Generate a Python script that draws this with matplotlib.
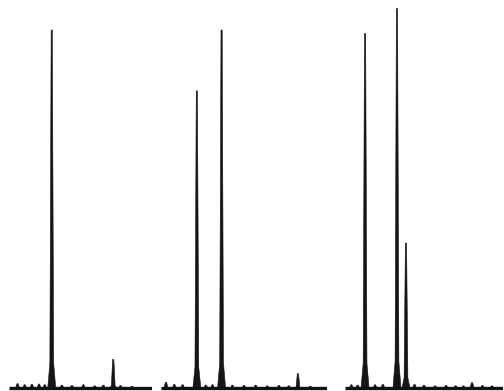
import numpy as np
import matplotlib
matplotlib.use("Agg")
import matplotlib.pyplot as plt

# peak centres (percent of panel width) and heights (percent of the main line)
panel1_pos = [29.9, 72.9]
panel1_height = [100.0, 8.0]
panel2_pos = [21.6, 36.5, 82.5]
panel2_height = [83.0, 100.0, 4.0]
panel3_pos = [12.7, 32.9, 38.6, 80.4]
panel3_height = [99.0, 106.0, 40.5, 1.5]

# small ripples along each baseline (position, height)
panel1_noise_pos = [6, 11, 16, 21, 25, 37, 44, 52, 60, 66, 78, 86]
panel1_noise_h = [1.2, 0.9, 1.0, 1.1, 0.9, 0.8, 0.7, 0.9, 0.6, 0.8, 0.7, 0.5]
panel2_noise_pos = [3, 8, 13, 27, 31, 43, 50, 57, 64, 71, 77, 90]
panel2_noise_h = [1.6, 1.0, 0.9, 0.8, 0.9, 0.8, 0.7, 0.8, 0.6, 0.7, 0.6, 0.5]
panel3_noise_pos = [4, 8, 19, 24, 44, 50, 57, 64, 70, 75, 87, 93]
panel3_noise_h = [0.9, 0.8, 0.9, 1.0, 1.0, 0.8, 0.6, 0.7, 0.6, 0.6, 0.7, 0.6]

# horizontal extent of each panel in figure pixels
panel_span = [(9, 152), (161, 327), (345, 503)]

FIG_W, FIG_H = 504, 391


def spike(ax, centre, height, span_px, foot_px=4.0):
    """Draw one narrow spectral line as a filled polygon."""
    px = 100.0 / span_px  # one pixel in axis units
    foot = foot_px * px
    shoulder = 1.9 * px
    tip = 0.6 * px
    xs = [centre - foot, centre - shoulder, centre - tip, centre + tip,
          centre + shoulder, centre + foot]
    ys = [0, height * 0.07, height, height, height * 0.07, 0]
    ax.fill(xs, ys, color="#151515", lw=0.4, ec="#151515")


def draw_panel(ax, positions, heights, noise_pos, noise_h, span_px):
    ax.plot([0, 100], [0, 0], color="#111111", lw=2.4, solid_capstyle="butt")
    for c, h in zip(noise_pos, noise_h):
        spike(ax, c, h, span_px, foot_px=2.0)
    for c, h in zip(positions, heights):
        spike(ax, c, h, span_px)
    ax.set_xlim(0, 100)
    ax.set_ylim(-3 / 358 * 100, (FIG_H - 3) / 358 * 100)
    ax.axis("off")


fig = plt.figure(figsize=(FIG_W / 100, FIG_H / 100), dpi=100)
panels = [(panel1_pos, panel1_height, panel1_noise_pos, panel1_noise_h),
          (panel2_pos, panel2_height, panel2_noise_pos, panel2_noise_h),
          (panel3_pos, panel3_height, panel3_noise_pos, panel3_noise_h)]
for (left, right), (pos, hts, npos, nh) in zip(panel_span, panels):
    ax = fig.add_axes([left / FIG_W, 0, (right - left) / FIG_W, 1])
    draw_panel(ax, pos, hts, npos, nh, right - left)

fig.savefig("out.png", dpi=100, facecolor="white")
